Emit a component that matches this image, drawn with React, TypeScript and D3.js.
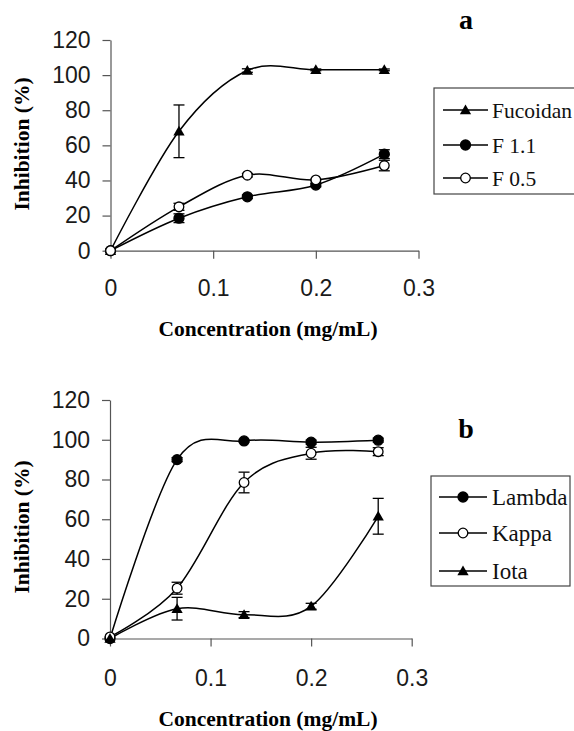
import { useEffect, useRef } from 'react'
import * as d3 from 'd3'

// concentrations (mg/mL)
const concentrations = [0, 0.0667, 0.1333, 0.2, 0.2667]
const xTicks = [0, 0.1, 0.2, 0.3]
const yTicks = [0, 20, 40, 60, 80, 100, 120]

// panel a
const fucoidan = [0, 68, 102.6, 103, 103]
const fucoidanErr = [0, 15, 1, 0.5, 0.5]
const f11 = [0, 18.5, 30.7, 37.4, 55]
const f11Err = [0, 2.5, 1, 1, 2.5]
const f05 = [0, 25, 43, 40.3, 48.5]
const f05Err = [0, 2, 1, 0.5, 3]

// panel b
const lambda = [0, 90, 99.4, 98.8, 99.8]
const lambdaErr = [0, 1, 0.5, 1, 1]
const kappa = [0.8, 25.3, 78.5, 93.2, 94]
const kappaErr = [0, 3, 5.2, 3, 2]
const iota = [0, 15, 12, 16.2, 61.5]
const iotaErr = [0, 5.7, 1.5, 1.5, 9]

const SANS = "'Liberation Sans', Arial, sans-serif"
const SERIF = "'Liberation Serif', 'Times New Roman', serif"

export default function App() {
    const svgRef = useRef(null)

    useEffect(() => {
        const svg = d3.select(svgRef.current)
        svg.selectAll('*').remove()

        const panels = [
            {
                x: d3.scaleLinear().domain([0, 0.3]).range([110.5, 418.5]),
                y: d3.scaleLinear().domain([0, 120]).range([250.7, 40]),
                tickPad: 21,
                label: 'a', labelPos: [466, 29],
                xTitleY: 335.5, yTitleY: 144,
                legend: { x0: 434, y0: 88, y1: 194, x1: 580, rows: [110, 145, 178], line: [443, 488], text: 492, size: 21.5 },
                series: [
                    { name: 'Fucoidan', values: fucoidan, err: fucoidanErr, mark: 'tri' },
                    { name: 'F 1.1', values: f11, err: f11Err, mark: 'dot' },
                    { name: 'F 0.5', values: f05, err: f05Err, mark: 'ring' },
                ],
            },
            {
                x: d3.scaleLinear().domain([0, 0.3]).range([110, 411.7]),
                y: d3.scaleLinear().domain([0, 120]).range([638.5, 400]),
                tickPad: 23,
                label: 'b', labelPos: [466, 438],
                xTitleY: 726, yTitleY: 527,
                legend: { x0: 431, y0: 476, y1: 586, x1: 570, rows: [497, 533, 571], line: [439, 487], text: 492, size: 23 },
                series: [
                    { name: 'Lambda', values: lambda, err: lambdaErr, mark: 'dot' },
                    { name: 'Kappa', values: kappa, err: kappaErr, mark: 'ring' },
                    { name: 'Iota', values: iota, err: iotaErr, mark: 'tri' },
                ],
            },
        ]

        const tri = d3.symbol().type(d3.symbolTriangle).size(55)

        function marker(g, mark, cx, cy) {
            if (mark === 'tri') {
                g.append('path').attr('d', tri()).attr('transform', `translate(${cx},${cy + 1})`).attr('fill', '#000')
            } else {
                g.append('circle').attr('cx', cx).attr('cy', cy).attr('r', mark === 'dot' ? 5 : 4.8)
                    .attr('fill', mark === 'dot' ? '#000' : '#fff')
                    .attr('stroke', '#000').attr('stroke-width', 1.3)
            }
        }

        panels.forEach(p => {
            const { x, y } = p
            // axes
            const gy = svg.append('g').attr('transform', `translate(${x(0)},0)`)
                .call(d3.axisLeft(y).tickValues(yTicks).tickSize(8).tickSizeOuter(0).tickPadding(12))
            const gx = svg.append('g').attr('transform', `translate(0,${y(0)})`)
                .call(d3.axisBottom(x).tickValues(xTicks).tickSize(8).tickSizeOuter(0).tickPadding(p.tickPad)
                    .tickFormat(d => d === 0 ? '0' : d3.format('.1f')(d)))
            ;[gx, gy].forEach(g => {
                g.attr('font-family', null).attr('font-size', null)
                g.selectAll('path, line').attr('stroke', '#555').attr('stroke-width', 1.2)
                g.selectAll('text').attr('fill', '#1a1a1a').style('font-family', SANS).style('font-size', '23px')
            })

            // axis titles
            svg.append('text')
                .attr('x', 268).attr('y', p.xTitleY)
                .attr('text-anchor', 'middle')
                .style('font-family', SERIF).style('font-weight', 'bold').style('font-size', '21.5px')
                .text('Concentration (mg/mL)')
            svg.append('text')
                .attr('transform', `translate(29,${p.yTitleY}) rotate(-90)`)
                .attr('text-anchor', 'middle')
                .style('font-family', SERIF).style('font-weight', 'bold').style('font-size', '21.5px')
                .text('Inhibition (%)')

            // panel letter
            svg.append('text')
                .attr('x', p.labelPos[0]).attr('y', p.labelPos[1])
                .attr('text-anchor', 'middle')
                .style('font-family', SERIF).style('font-weight', 'bold').style('font-size', '28px')
                .text(p.label)

            const line = d3.line().x(d => x(d[0])).y(d => y(d[1])).curve(d3.curveCardinal.tension(0))

            // lines
            p.series.forEach(s => {
                svg.append('path')
                    .datum(concentrations.map((c, i) => [c, s.values[i]]))
                    .attr('d', line)
                    .attr('fill', 'none')
                    .attr('stroke', '#000')
                    .attr('stroke-width', 1.5)
            })
            // error bars
            p.series.forEach(s => {
                const g = svg.append('g').attr('stroke', '#000').attr('stroke-width', 1.3)
                concentrations.forEach((c, i) => {
                    const e = s.err[i]
                    if (!e) return
                    const cx = x(c)
                    const top = y(s.values[i] + e)
                    const bot = y(s.values[i] - e)
                    g.append('line').attr('x1', cx).attr('x2', cx).attr('y1', top).attr('y2', bot)
                    g.append('line').attr('x1', cx - 5.5).attr('x2', cx + 5.5).attr('y1', top).attr('y2', top)
                    g.append('line').attr('x1', cx - 5.5).attr('x2', cx + 5.5).attr('y1', bot).attr('y2', bot)
                })
            })
            // markers
            p.series.forEach(s => {
                const g = svg.append('g')
                concentrations.forEach((c, i) => marker(g, s.mark, x(c), y(s.values[i])))
            })

            // legend
            const L = p.legend
            const lg = svg.append('g')
            lg.append('rect')
                .attr('x', L.x0).attr('y', L.y0)
                .attr('width', L.x1 - L.x0).attr('height', L.y1 - L.y0)
                .attr('fill', '#fff').attr('stroke', '#444').attr('stroke-width', 1.2)
            p.series.forEach((s, i) => {
                const ry = L.rows[i]
                lg.append('line').attr('x1', L.line[0]).attr('x2', L.line[1]).attr('y1', ry).attr('y2', ry)
                    .attr('stroke', '#000').attr('stroke-width', 1.5)
                marker(lg, s.mark, (L.line[0] + L.line[1]) / 2, ry)
                lg.append('text')
                    .attr('x', L.text).attr('y', ry).attr('dy', '0.35em')
                    .style('font-family', SERIF).style('font-size', `${L.size}px`)
                    .attr('fill', '#111')
                    .text(s.name)
            })
        })
    }, [])

    return (
        <svg ref={svgRef} width={574} height={731}
            style={{ position: 'absolute', left: 0, top: 0, background: '#fff' }} />
    )
}
